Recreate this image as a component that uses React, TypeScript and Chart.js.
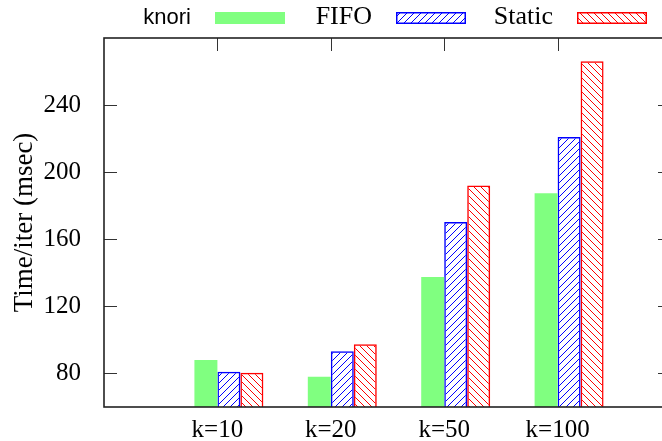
import React, { useEffect, useRef } from 'react';
import { Chart, registerables } from 'chart.js';

Chart.register(...registerables);

const CATEGORIES = ['k=10', 'k=20', 'k=50', 'k=100'];
const SERIES_NAMES = ['knori', 'FIFO', 'Static'];
const KNORI = [88, 78, 137.5, 187.5];
const FIFO = [81, 93.2, 170.3, 221];
const STATIC = [80.4, 97.4, 192.1, 266.2];
const Y_TICKS = [80, 120, 160, 200, 240];
const Y_MIN = 60;
const Y_MAX = 280;
const X_MIN = -1;
const X_MAX = 4;

const SERIF = '"Liberation Serif", "Times New Roman", serif';
const SANS = '"Liberation Sans", Arial, sans-serif';
const GREEN = '#80ff80';
const BLUE = '#0000ff';
const RED = '#ff0000';

function makeHatch(color: string, forward: boolean): CanvasPattern | string {
  const s = 7;
  const c = document.createElement('canvas');
  c.width = s;
  c.height = s;
  const g = c.getContext('2d');
  if (!g) return color;
  g.strokeStyle = color;
  g.lineWidth = 1;
  g.beginPath();
  if (forward) {
    g.moveTo(0, s); g.lineTo(s, 0);
    g.moveTo(-1, 1); g.lineTo(1, -1);
    g.moveTo(s - 1, s + 1); g.lineTo(s + 1, s - 1);
  } else {
    g.moveTo(0, 0); g.lineTo(s, s);
    g.moveTo(-1, s - 1); g.lineTo(1, s + 1);
    g.moveTo(s - 1, -1); g.lineTo(s + 1, 1);
  }
  g.stroke();
  const p = g.createPattern(c, 'repeat');
  return p || color;
}

const toPoints = (vals: number[]) => CATEGORIES.map((_, i) => ({ x: i, y: vals[i] }));

export default function App() {
  const ref = useRef<HTMLCanvasElement | null>(null);

  useEffect(() => {
    if (!ref.current) return;
    const blueHatch = makeHatch(BLUE, true);
    const redHatch = makeHatch(RED, false);

    const swatches = [
      { fill: GREEN, border: null as string | null },
      { fill: blueHatch, border: BLUE },
      { fill: redHatch, border: RED },
    ];

    const framePlugin = {
      id: 'frame',
      afterDatasetsDraw(chart: any) {
        const { ctx, chartArea: a, scales } = chart;
        const ys = scales.y;
        const xs = scales.x;
        const tl = 13;
        ctx.save();
        ctx.strokeStyle = '#333';
        ctx.lineWidth = 1;
        ctx.beginPath();
        Y_TICKS.forEach((v) => {
          const py = Math.round(ys.getPixelForValue(v)) + 0.5;
          ctx.moveTo(a.left, py); ctx.lineTo(a.left + tl, py);
          ctx.moveTo(a.right, py); ctx.lineTo(a.right - tl, py);
        });
        CATEGORIES.forEach((_, i) => {
          const px = Math.round(xs.getPixelForValue(i)) + 0.5;
          ctx.moveTo(px, a.top); ctx.lineTo(px, a.top + tl);
        });
        ctx.stroke();
        ctx.strokeStyle = '#222';
        ctx.lineWidth = 1.6;
        ctx.strokeRect(a.left, a.top, a.right - a.left, a.bottom - a.top);
        ctx.restore();
      },
      afterDraw(chart: any) {
        const { ctx } = chart;
        ctx.save();
        SERIES_NAMES.forEach((name, i) => {
          const sx = 215 + i * 181;
          ctx.fillStyle = '#000';
          ctx.textAlign = 'right';
          ctx.textBaseline = 'alphabetic';
          ctx.font = i === 0 ? `22px ${SANS}` : `26px ${SERIF}`;
          ctx.fillText(name, sx - 24, 24);
          const sw = swatches[i];
          ctx.fillStyle = sw.fill as any;
          ctx.fillRect(sx, 12, 70, 12);
          if (sw.border) {
            ctx.strokeStyle = sw.border;
            ctx.lineWidth = 1.5;
            ctx.strokeRect(sx + 0.75, 12.75, 68.5, 10.5);
          }
        });
        ctx.restore();
      },
    };

    const chart = new Chart(ref.current, {
      type: 'bar',
      data: {
        datasets: [
          {
            label: '',
            data: CATEGORIES.map((_, i) => ({ x: i, y: null as any })),
            backgroundColor: 'rgba(0,0,0,0)',
          },
          {
            label: SERIES_NAMES[0],
            data: toPoints(KNORI),
            backgroundColor: GREEN,
            borderWidth: 0,
          },
          {
            label: SERIES_NAMES[1],
            data: toPoints(FIFO),
            backgroundColor: blueHatch as any,
            borderColor: BLUE,
            borderWidth: 1.5,
            borderSkipped: false,
          },
          {
            label: SERIES_NAMES[2],
            data: toPoints(STATIC),
            backgroundColor: redHatch as any,
            borderColor: RED,
            borderWidth: 1.5,
            borderSkipped: false,
          },
        ],
      },
      options: {
        responsive: false,
        animation: false,
        devicePixelRatio: 1,
        layout: { padding: { top: 38, right: 9, left: 0, bottom: 0 } },
        datasets: { bar: { categoryPercentage: 0.811, barPercentage: 1 } },
        plugins: {
          legend: { display: false },
          tooltip: { enabled: false },
        },
        scales: {
          x: {
            type: 'linear',
            offset: false,
            min: X_MIN,
            max: X_MAX,
            grid: { display: false, drawTicks: false, offset: false },
            border: { display: false },
            afterBuildTicks: (scale: any) => {
              scale.ticks = CATEGORIES.map((_, i) => ({ value: i }));
            },
            afterFit: (scale: any) => {
              scale.height = 34;
              scale.paddingLeft = 0;
              scale.paddingRight = 0;
            },
            ticks: {
              autoSkip: false,
              maxRotation: 0,
              padding: 8,
              color: '#000',
              font: { family: SERIF, size: 25 },
              callback: (v: any) => CATEGORIES[Number(v)] ?? '',
            },
          },
          y: {
            min: Y_MIN,
            max: Y_MAX,
            grid: { display: false, drawTicks: false },
            border: { display: false },
            afterBuildTicks: (scale: any) => {
              scale.ticks = Y_TICKS.map((v) => ({ value: v }));
            },
            afterFit: (scale: any) => {
              scale.width = 104;
              scale.paddingTop = 0;
              scale.paddingBottom = 0;
            },
            ticks: {
              padding: 23,
              color: '#000',
              font: { family: SERIF, size: 25 },
              callback: (v: any) => String(v),
            },
            title: {
              display: true,
              text: 'Time/iter (msec)',
              color: '#000',
              font: { family: SERIF, size: 27 },
              padding: { top: 9, bottom: 0 },
            },
          },
        },
      },
      plugins: [framePlugin],
    } as any);

    return () => chart.destroy();
  }, []);

  return (
    <div style={{ position: 'fixed', left: 0, top: 0, width: 662, height: 441, overflow: 'hidden', background: '#fff' }}>
      <canvas ref={ref} width={680} height={441} style={{ display: 'block' }} />
    </div>
  );
}
